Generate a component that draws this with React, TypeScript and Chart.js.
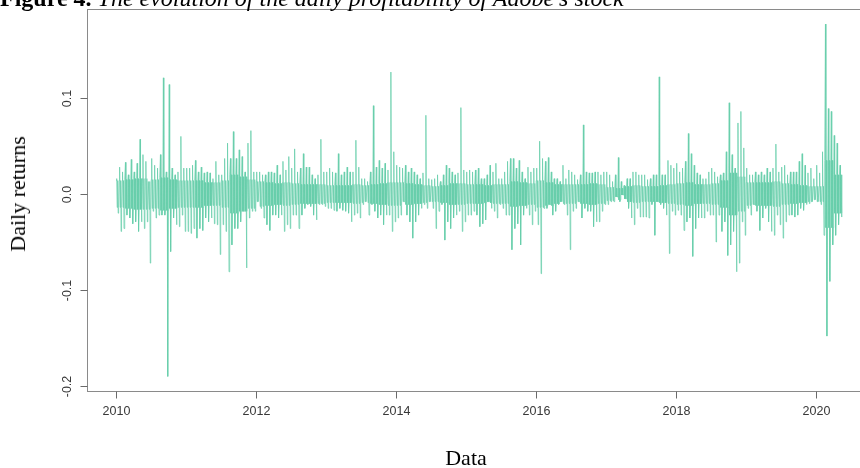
import React, { useEffect, useRef } from "react";
import { Chart, registerables } from "chart.js";

Chart.register(...registerables);

// Daily returns: for every 1/24 of a year the (highest, lowest) return.
const r2010 = [
  0.016, -0.020, 0.028, -0.039, 0.023, -0.036, 0.033, -0.022, 0.020, -0.025, 0.036, -0.031,
  0.023, -0.029, 0.032, -0.039, 0.057, -0.029, 0.041, -0.036, 0.034, -0.029, 0.013, -0.072,
  0.037, -0.018, 0.030, -0.025, 0.027, -0.022, 0.041, -0.022, 0.121, -0.022, 0.023, -0.190,
  0.114, -0.060, 0.027, -0.025, 0.020, -0.032, 0.023, -0.034, 0.060, -0.022, 0.027, -0.039,
];
const r2011 = [
  0.027, -0.039, 0.027, -0.041, 0.030, -0.036, 0.035, -0.046, 0.023, -0.036, 0.028, -0.038,
  0.022, -0.025, 0.023, -0.029, 0.022, -0.025, 0.016, -0.031, 0.034, -0.032, 0.020, -0.063,
  0.020, -0.032, 0.037, -0.039, 0.053, -0.081, 0.037, -0.053, 0.065, -0.036, 0.037, -0.036,
  0.046, -0.029, 0.039, -0.018, 0.023, -0.077, 0.053, -0.025, 0.066, -0.018, 0.023, -0.018,
];
const r2012 = [
  0.023, -0.008, 0.023, -0.015, 0.020, -0.025, 0.020, -0.032, 0.023, -0.038, 0.023, -0.022,
  0.022, -0.022, 0.030, -0.025, 0.020, -0.022, 0.034, -0.039, 0.025, -0.032, 0.039, -0.036,
  0.027, -0.022, 0.047, -0.022, 0.023, -0.036, 0.027, -0.022, 0.042, -0.015, 0.028, -0.011,
  0.028, -0.013, 0.020, -0.022, 0.016, -0.027, 0.020, -0.011, 0.057, -0.011, 0.023, -0.013,
];
const r2013 = [
  0.023, -0.015, 0.027, -0.015, 0.023, -0.017, 0.022, -0.018, 0.042, -0.015, 0.020, -0.017,
  0.023, -0.018, 0.028, -0.020, 0.023, -0.029, 0.023, -0.022, 0.056, -0.020, 0.028, -0.025,
  0.016, -0.011, 0.016, -0.008, 0.013, -0.022, 0.023, -0.011, 0.092, -0.018, 0.028, -0.025,
  0.035, -0.022, 0.027, -0.032, 0.032, -0.022, 0.025, -0.022, 0.127, -0.039, 0.044, -0.029,
];
const r2014 = [
  0.030, -0.025, 0.028, -0.022, 0.027, -0.008, 0.030, -0.022, 0.023, -0.029, 0.027, -0.046,
  0.023, -0.029, 0.020, -0.022, 0.016, -0.015, 0.022, -0.011, 0.082, -0.015, 0.016, -0.008,
  0.015, -0.015, 0.016, -0.036, 0.020, -0.018, 0.013, -0.011, 0.020, -0.048, 0.030, -0.029,
  0.027, -0.036, 0.023, -0.025, 0.020, -0.022, 0.022, -0.018, 0.090, -0.039, 0.025, -0.029,
];
const r2015 = [
  0.023, -0.022, 0.025, -0.022, 0.023, -0.018, 0.025, -0.022, 0.027, -0.034, 0.016, -0.031,
  0.016, -0.027, 0.020, -0.008, 0.030, -0.015, 0.023, -0.018, 0.032, -0.025, 0.016, -0.011,
  0.016, -0.015, 0.023, -0.022, 0.034, -0.022, 0.037, -0.058, 0.037, -0.036, 0.027, -0.031,
  0.035, -0.053, 0.023, -0.022, 0.016, -0.015, 0.028, -0.022, 0.023, -0.032, 0.027, -0.018,
];
const r2016 = [
  0.027, -0.032, 0.055, -0.083, 0.037, -0.015, 0.034, -0.015, 0.038, -0.011, 0.023, -0.022,
  0.016, -0.018, 0.016, -0.011, 0.013, -0.008, 0.030, -0.011, 0.016, -0.022, 0.025, -0.058,
  0.023, -0.018, 0.020, -0.015, 0.015, -0.008, 0.020, -0.025, 0.072, -0.015, 0.023, -0.018,
  0.022, -0.018, 0.022, -0.034, 0.023, -0.029, 0.023, -0.029, 0.020, -0.018, 0.023, -0.011,
];
const r2017 = [
  0.023, -0.011, 0.020, -0.008, 0.013, -0.008, 0.020, -0.003, 0.038, -0.008, 0.013, -0.001,
  0.009, -0.005, 0.016, -0.015, 0.016, -0.025, 0.023, -0.032, 0.023, -0.015, 0.020, -0.024,
  0.020, -0.024, 0.020, -0.024, 0.015, -0.025, 0.016, -0.011, 0.020, -0.043, 0.020, -0.008,
  0.122, -0.011, 0.020, -0.015, 0.020, -0.022, 0.035, -0.062, 0.030, -0.018, 0.027, -0.022,
];
const r2018 = [
  0.032, -0.017, 0.023, -0.022, 0.027, -0.038, 0.034, -0.029, 0.063, -0.025, 0.042, -0.065,
  0.030, -0.036, 0.022, -0.025, 0.020, -0.025, 0.016, -0.025, 0.016, -0.018, 0.023, -0.022,
  0.027, -0.022, 0.023, -0.050, 0.018, -0.022, 0.020, -0.039, 0.022, -0.029, 0.044, -0.064,
  0.095, -0.053, 0.041, -0.039, 0.027, -0.081, 0.074, -0.072, 0.086, -0.029, 0.048, -0.043,
];
const r2019 = [
  0.027, -0.015, 0.020, -0.022, 0.020, -0.011, 0.023, -0.018, 0.020, -0.038, 0.023, -0.025,
  0.020, -0.015, 0.027, -0.029, 0.023, -0.039, 0.027, -0.043, 0.052, -0.022, 0.023, -0.032,
  0.028, -0.046, 0.030, -0.029, 0.020, -0.022, 0.023, -0.022, 0.023, -0.024, 0.023, -0.022,
  0.034, -0.015, 0.042, -0.017, 0.030, -0.011, 0.022, -0.010, 0.027, -0.008, 0.016, -0.006,
];
const r2020 = [
  0.030, -0.008, 0.022, -0.011, 0.044, -0.043, 0.177, -0.148, 0.089, -0.091, 0.086, -0.053,
  0.061, -0.043, 0.053, -0.032, 0.030, -0.024,
];

// Half-width of the dense core of daily returns, read for every 1/8 of a year.
const core2010 = [0.014, 0.015, 0.016, 0.016, 0.015, 0.017, 0.015, 0.014];
const core2011 = [0.014, 0.014, 0.012, 0.012, 0.014, 0.020, 0.018, 0.015];
const core2012 = [0.013, 0.012, 0.011, 0.012, 0.011, 0.010, 0.010, 0.010];
const core2013 = [0.009, 0.009, 0.009, 0.010, 0.009, 0.010, 0.011, 0.012];
const core2014 = [0.012, 0.011, 0.010, 0.009, 0.008, 0.009, 0.011, 0.011];
const core2015 = [0.010, 0.010, 0.009, 0.010, 0.010, 0.013, 0.012, 0.011];
const core2016 = [0.014, 0.012, 0.010, 0.010, 0.010, 0.010, 0.011, 0.010];
const core2017 = [0.007, 0.006, 0.008, 0.009, 0.008, 0.008, 0.009, 0.010];
const core2018 = [0.011, 0.012, 0.010, 0.010, 0.011, 0.014, 0.022, 0.018];
const core2019 = [0.012, 0.012, 0.012, 0.013, 0.011, 0.010, 0.009, 0.008];
const core2020 = [0.008, 0.035, 0.020];

const years = [2010, 2011, 2012, 2013, 2014, 2015, 2016, 2017, 2018, 2019, 2020];
const extremesByYear = [r2010, r2011, r2012, r2013, r2014, r2015, r2016, r2017, r2018, r2019, r2020];
const coreByYear = [core2010, core2011, core2012, core2013, core2014, core2015, core2016, core2017, core2018, core2019, core2020];
const periodsPerYear = 24;

const xTicks = [2010, 2012, 2014, 2016, 2018, 2020];
const xTickLabels = ["2010", "2012", "2014", "2016", "2018", "2020"];
const yTicks = [-0.2, -0.1, 0.0, 0.1];
const yTickLabels = ["-0.2", "-0.1", "0.0", "0.1"];

const X_MIN = 2009.586;
const X_MAX = 2020.786;
const Y_MIN = -0.2052;
const Y_MAX = 0.1927;

const LINE_COLOR = "rgb(102,205,170)";
const BOX_COLOR = "#8a8a8a";
const TICK_COLOR = "#6a6a6a";
const LABEL_COLOR = "#383838";

const framePlugin = {
  id: "rFrame",
  afterDatasetsDraw(chart: any) {
    const { ctx, chartArea, scales } = chart;
    const xs = scales.x;
    const ys = scales.y;
    ctx.save();
    ctx.strokeStyle = BOX_COLOR;
    ctx.lineWidth = 1;
    ctx.strokeRect(
      Math.round(chartArea.left) + 0.5,
      Math.round(chartArea.top) + 0.5,
      Math.round(chartArea.right - chartArea.left),
      Math.round(chartArea.bottom - chartArea.top)
    );
    ctx.strokeStyle = TICK_COLOR;
    ctx.fillStyle = LABEL_COLOR;
    ctx.font = "12.5px 'Liberation Sans', Arial, sans-serif";
    const bottom = Math.round(chartArea.bottom) + 0.5;
    xTicks.forEach((t, i) => {
      const px = Math.round(xs.getPixelForValue(t)) + 0.5;
      ctx.beginPath();
      ctx.moveTo(px, bottom);
      ctx.lineTo(px, bottom + 7);
      ctx.stroke();
      ctx.textAlign = "center";
      ctx.textBaseline = "alphabetic";
      ctx.fillText(xTickLabels[i], px, bottom + 23);
    });
    const left = Math.round(chartArea.left) + 0.5;
    yTicks.forEach((t, i) => {
      const py = Math.round(ys.getPixelForValue(t)) + 0.5;
      ctx.beginPath();
      ctx.moveTo(left - 7, py);
      ctx.lineTo(left, py);
      ctx.stroke();
      ctx.save();
      ctx.translate(left - 16.5, py);
      ctx.rotate(-Math.PI / 2);
      ctx.textAlign = "center";
      ctx.textBaseline = "alphabetic";
      ctx.fillText(yTickLabels[i], 0, 0);
      ctx.restore();
    });
    ctx.restore();
  },
};

function buildPoints() {
  const points: { x: number; y: number }[] = [];
  years.forEach((yr, yi) => {
    const ext = extremesByYear[yi];
    const core = coreByYear[yi];
    const n = ext.length / 2;
    for (let i = 0; i < n; i++) {
      const hi = ext[2 * i];
      const lo = ext[2 * i + 1];
      const c = core[Math.floor(i / 3)];
      const cu = Math.min(c, hi);
      const cl = -Math.min(c, -lo);
      const seq = [cu, hi, cl, cu, lo, cl];
      seq.forEach((v, j) => {
        points.push({ x: yr + (i + (j + 0.5) / seq.length) / periodsPerYear, y: v });
      });
    }
  });
  return points;
}

export default function App() {
  const canvasRef = useRef<HTMLCanvasElement | null>(null);

  useEffect(() => {
    const canvas = canvasRef.current;
    if (!canvas) return;
    const chart = new Chart(canvas, {
      type: "line",
      data: {
        datasets: [
          {
            label: "Daily returns",
            data: buildPoints(),
            borderColor: LINE_COLOR,
            borderWidth: 0.75,
            pointRadius: 0,
            fill: false,
            tension: 0,
          },
        ],
      },
      options: {
        animation: false,
        responsive: false,
        maintainAspectRatio: false,
        parsing: false,
        events: [],
        layout: { padding: { left: 87, top: 9, right: 9, bottom: 77 } },
        plugins: {
          legend: { display: false },
          tooltip: { enabled: false },
          title: { display: false },
        },
        scales: {
          x: { type: "linear", display: false, min: X_MIN, max: X_MAX },
          y: { type: "linear", display: false, min: Y_MIN, max: Y_MAX },
        },
      },
      plugins: [framePlugin],
    } as any);
    return () => chart.destroy();
  }, []);

  const serif = "'Liberation Serif', 'Times New Roman', serif";

  return (
    <div
      style={{
        position: "absolute",
        left: 0,
        top: 0,
        width: 860,
        height: 468,
        overflow: "hidden",
        background: "#ffffff",
      }}
    >
      <canvas
        ref={canvasRef}
        width={880}
        height={468}
        style={{ position: "absolute", left: 0, top: 0, width: 880, height: 468 }}
      />
      <div
        style={{
          position: "absolute",
          left: 0,
          top: -13.8,
          fontFamily: serif,
          fontSize: 24,
          lineHeight: "24px",
          whiteSpace: "nowrap",
          color: "#000",
        }}
      >
        <span style={{ fontWeight: "bold" }}>Figure 4.</span>{" "}
        <span style={{ fontStyle: "italic" }}>
          The evolution of the daily profitability of Adobe’s stock
        </span>
      </div>
      <div
        style={{
          position: "absolute",
          left: 18,
          top: 194,
          transform: "translate(-50%, -50%) rotate(-90deg)",
          fontFamily: serif,
          fontSize: 22,
          lineHeight: "22px",
          whiteSpace: "nowrap",
          color: "#000",
        }}
      >
        Daily returns
      </div>
      <div
        style={{
          position: "absolute",
          left: 466,
          top: 447,
          transform: "translateX(-50%)",
          fontFamily: serif,
          fontSize: 22,
          lineHeight: "22px",
          whiteSpace: "nowrap",
          color: "#000",
        }}
      >
        Data
      </div>
    </div>
  );
}
